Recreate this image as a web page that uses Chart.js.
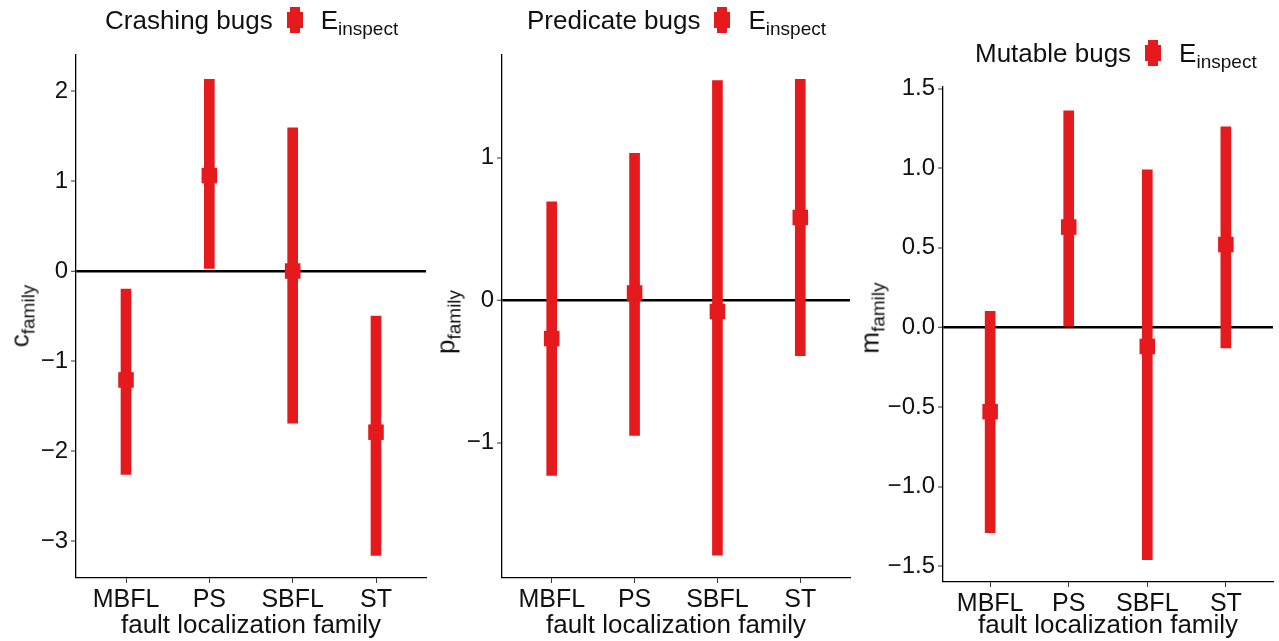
<!DOCTYPE html>
<html>
<head>
<meta charset="utf-8">
<script src="https://cdn.jsdelivr.net/npm/chart.js@4.4.1/dist/chart.umd.min.js"></script>
<style>
body { margin: 0; background: #fff; font-family: "Liberation Sans", Arial, sans-serif; }
#wrap { position: relative; width: 1279px; height: 641px; overflow: hidden; }
canvas { position: absolute; top: 0; }
.title { position: absolute; font-size: 26px; white-space: nowrap; color: #111; display: flex; align-items: center; height: 30px; }
.key { display: inline-block; position: relative; width: 16px; height: 26px; margin: 0 18px 0 14px; }
.key:before { content: ''; position: absolute; left: 3px; top: 0; width: 10px; height: 26px; background: #e41a1c; }
.key:after { content: ''; position: absolute; left: 0; top: 5px; width: 16px; height: 16px; background: #e41a1c; }
.sym { display: inline-block; line-height: 30px; }
sub { font-size: 19px; vertical-align: -6px; line-height: 0; }
.ylab { position: absolute; font-size: 26px; color: #111; white-space: nowrap; transform: translate(-50%, -50%) rotate(-90deg); }
</style>
</head>
<body>
<div id="wrap">
  <canvas id="c1" width="460" height="641" style="left:0px"></canvas>
  <canvas id="c2" width="455" height="641" style="left:430px"></canvas>
  <canvas id="c3" width="454" height="641" style="left:855px"></canvas>

  <div class="title" style="left:105px;top:5px">Crashing bugs<span class="key"></span><span class="sym">E<sub>inspect</sub></span></div>
  <div class="title" style="left:527px;top:5px">Predicate bugs<span class="key"></span><span class="sym">E<sub>inspect</sub></span></div>
  <div class="title" style="left:975px;top:38px">Mutable bugs<span class="key"></span><span class="sym">E<sub>inspect</sub></span></div>

  <div class="ylab" style="left:20px;top:316px">c<sub>family</sub></div>
  <div class="ylab" style="left:446px;top:322px">p<sub>family</sub></div>
  <div class="ylab" style="left:870px;top:318px">m<sub>family</sub></div>
</div>
<script>
const families = ['MBFL', 'PS', 'SBFL', 'ST'];

const crashEst = [-1.21, 1.06, 0.0, -1.79];
const crashLow = [-2.26, 0.03, -1.69, -3.16];
const crashHigh = [-0.2, 2.13, 1.59, -0.5];
const crashTicks = [-3, -2, -1, 0, 1, 2];

const predEst = [-0.27, 0.05, -0.08, 0.58];
const predLow = [-1.23, -0.95, -1.79, -0.39];
const predHigh = [0.69, 1.03, 1.54, 1.55];
const predTicks = [-1, 0, 1];

const mutEst = [-0.53, 0.63, -0.12, 0.52];
const mutLow = [-1.29, 0.0, -1.46, -0.13];
const mutHigh = [0.10, 1.36, 0.99, 1.26];
const mutTicks = [-1.5, -1.0, -0.5, 0.0, 0.5, 1.0, 1.5];

const RED = 'rgb(228, 26, 28)';
const FONT = '"Liberation Sans", Arial, sans-serif';

const makePanel = (id, est, low, high, ticks, yMin, yMax, decimals, box) => {
    const canvas = document.getElementById(id);
    const ctx = canvas.getContext('2d');
    const chart = new Chart(ctx, {
        data: {
            datasets: [{
                type: 'bar',
                data: families.map((f, i) => ({ x: i + 1, y: [low[i], high[i]] })),
                backgroundColor: RED,
                borderWidth: 0,
                barThickness: 10,
                order: 2
            }, {
                type: 'scatter',
                data: families.map((f, i) => ({ x: i + 1, y: est[i] })),
                backgroundColor: RED,
                borderColor: RED,
                borderWidth: 0,
                pointStyle: 'rect',
                pointRadius: 11,
                order: 1
            }]
        },
        options: {
            responsive: false,
            devicePixelRatio: 1,
            animation: false,
            layout: { padding: { top: box.top, right: canvas.width - box.right, left: 0, bottom: 0 } },
            plugins: { legend: { display: false }, tooltip: { enabled: false } },
            scales: {
                x: {
                    type: 'linear',
                    min: 0.4,
                    max: 4.6,
                    offset: false,
                    afterBuildTicks: s => { s.ticks = families.map((f, i) => ({ value: i + 1 })); },
                    afterFit: s => {
                        s.height = 641 - box.bottom;
                        s.paddingLeft = 0;
                        s.paddingRight = 0;
                    },
                    border: { display: true, color: '#000', width: 1.3 },
                    grid: { offset: false, drawOnChartArea: false, drawTicks: true, tickLength: 5, tickColor: '#333', tickWidth: 1 },
                    ticks: {
                        autoSkip: false,
                        maxRotation: 0,
                        padding: 2,
                        color: '#111',
                        font: { family: FONT, size: 25 },
                        callback: v => families[Math.round(v) - 1]
                    },
                    title: {
                        display: true,
                        text: 'fault localization family',
                        color: '#111',
                        font: { family: FONT, size: 26 },
                        padding: { top: 0, bottom: 0 }
                    }
                },
                y: {
                    type: 'linear',
                    min: yMin,
                    max: yMax,
                    afterBuildTicks: s => { s.ticks = ticks.map(v => ({ value: v })); },
                    afterFit: s => {
                        s.width = box.left;
                        s.paddingTop = 0;
                        s.paddingBottom = 0;
                    },
                    border: { display: true, color: '#000', width: 1.3 },
                    grid: {
                        drawTicks: true,
                        tickLength: 5,
                        tickColor: '#333',
                        tickWidth: 1,
                        color: c => (c.tick && Math.abs(c.tick.value) < 1e-9) ? '#000' : 'rgba(0,0,0,0)',
                        lineWidth: c => (c.tick && Math.abs(c.tick.value) < 1e-9) ? 2.5 : 0
                    },
                    ticks: {
                        padding: 3,
                        color: '#111',
                        font: { family: FONT, size: 24 },
                        callback: v => (v < 0 ? '\u2212' : '') + Math.abs(v).toFixed(decimals)
                    }
                }
            }
        }
    });
    // chart.js keeps some extra room on the right; nudge the padding so the plot ends where it should
    const diff = box.right - chart.chartArea.right;
    if (diff !== 0) {
        chart.options.layout.padding.right -= diff;
        chart.update();
    }
    return chart;
};

makePanel('c1', crashEst, crashLow, crashHigh, crashTicks, -3.41, 2.4, 0, { left: 76, right: 426, top: 55, bottom: 578 });
makePanel('c2', predEst, predLow, predHigh, predTicks, -1.95, 1.72, 0, { left: 72, right: 420, top: 55, bottom: 578 });
makePanel('c3', mutEst, mutLow, mutHigh, mutTicks, -1.6, 1.51, 1, { left: 88, right: 418, top: 87, bottom: 582 });
</script>
</body>
</html>
